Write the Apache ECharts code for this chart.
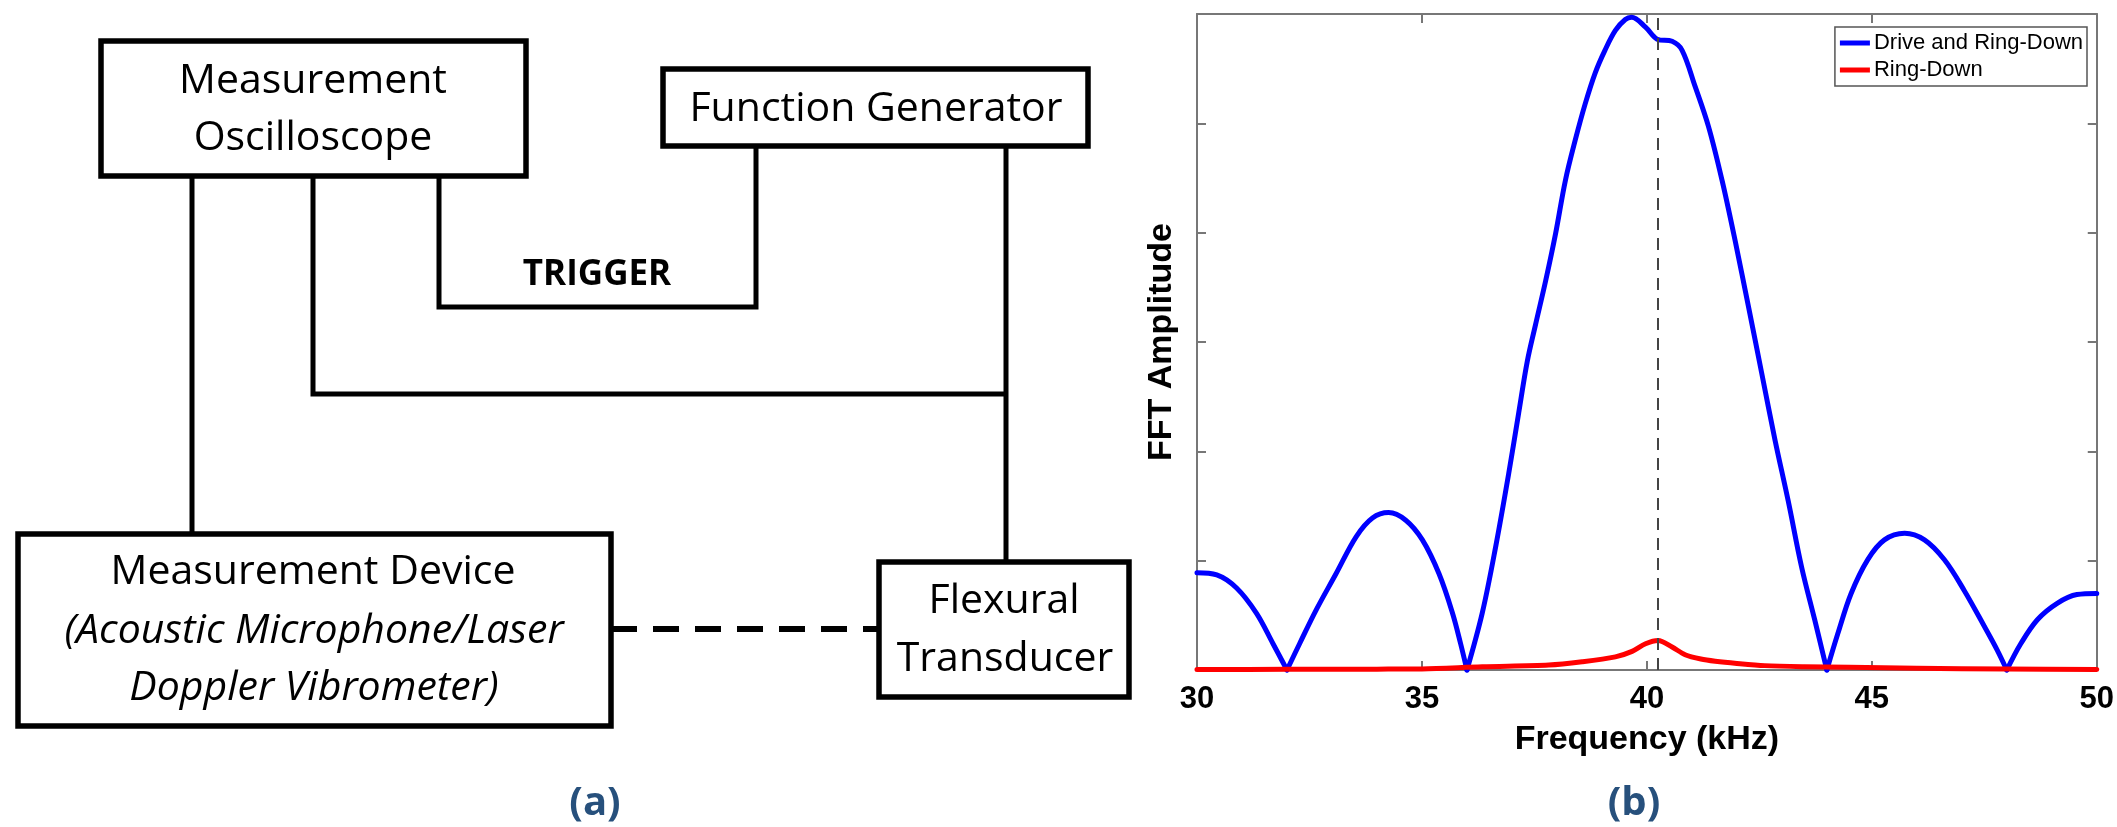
<!DOCTYPE html>
<html>
<head>
<meta charset="utf-8">
<script src="https://cdn.jsdelivr.net/npm/echarts@6/dist/echarts.min.js"></script>
<style>
  html, body { margin: 0; padding: 0; background: #fff; }
  #main { width: 2117px; height: 827px; }
</style>
</head>
<body>
<div id="main"></div>
<script>
// ---- Spectrum data (frequency in kHz, amplitude in arbitrary FFT units) ----
const freqDrive = [30.00, 30.44, 30.88, 31.32, 31.69, 32.00, 32.28, 32.65, 33.09, 33.54,
  33.90, 34.26, 34.64, 35.01, 35.38, 35.68, 35.86, 36.00, 36.34, 36.64, 36.93, 37.15,
  37.34, 37.52, 37.75, 37.97, 38.19, 38.41, 38.63, 38.85, 39.07, 39.30, 39.52, 39.66,
  39.97, 40.23, 40.56, 40.78, 41.07, 41.37, 41.67, 41.96, 42.26, 42.55, 42.85, 43.14,
  43.44, 43.73, 44.00, 44.25, 44.54, 44.91, 45.28, 45.73, 46.17, 46.61, 47.05, 47.50,
  47.79, 48.00, 48.31, 48.68, 49.12, 49.56, 50.00];
const ampDrive = [0.89, 0.87, 0.75, 0.52, 0.24, 0.00, 0.24, 0.55, 0.88, 1.22,
  1.39, 1.44, 1.37, 1.19, 0.88, 0.52, 0.24, 0.00, 0.52, 1.13, 1.80, 2.35,
  2.82, 3.15, 3.56, 3.99, 4.48, 4.85, 5.18, 5.46, 5.67, 5.85, 5.95, 5.97,
  5.88, 5.77, 5.75, 5.67, 5.34, 4.97, 4.48, 3.93, 3.32, 2.72, 2.10, 1.55,
  0.94, 0.46, 0.00, 0.34, 0.70, 1.01, 1.19, 1.25, 1.19, 1.01, 0.73, 0.40,
  0.18, 0.00, 0.24, 0.46, 0.61, 0.69, 0.70];

const freqRing = [30.0, 32.0, 34.0, 35.0, 36.34, 37.82, 38.56, 39.30, 39.67, 39.97,
  40.25, 40.56, 40.85, 41.2, 41.52, 42.0, 42.62, 43.5, 44.5, 46.0, 48.0, 50.0];
const ampRing = [0.005, 0.006, 0.008, 0.01, 0.03, 0.045, 0.075, 0.12, 0.17, 0.24,
  0.27, 0.21, 0.14, 0.10, 0.08, 0.06, 0.04, 0.03, 0.025, 0.015, 0.01, 0.005];

const resonanceKHz = 40.25;
const seriesNames = ['Drive and Ring-Down', 'Ring-Down'];
const xTicks = { min: 30, max: 50, step: 5 };
const yTicks = { min: 0, max: 6, step: 1 };
const axisTitles = { x: 'Frequency (kHz)', y: 'FFT Amplitude' };

// ---- Block diagram text ----
const oscLines = ['Measurement', 'Oscilloscope'];
const genLines = ['Function Generator'];
const deviceLines = ['Measurement Device', '(Acoustic Microphone/Laser', 'Doppler Vibrometer)'];
const transducerLines = ['Flexural', 'Transducer'];
const triggerText = 'TRIGGER';
const panelTags = ['(a)', '(b)'];

const pair = (xs, ys) => xs.map((x, i) => [x, ys[i]]);

// Split the drive spectrum into its lobes at the zero crossings so each lobe
// can be smoothed while the nulls keep their sharp V shape.
function lobes(xs, ys) {
  const out = [];
  let start = 0;
  ys.forEach((v, i) => {
    if (v === 0 && i > start) {
      out.push(pair(xs.slice(start, i + 1), ys.slice(start, i + 1)));
      start = i;
    }
  });
  if (start < ys.length - 1) out.push(pair(xs.slice(start), ys.slice(start)));
  return out;
}

const BOX = '#000';
const WIRE = 5.5;
const boxFont = '41px "Open Sans"';
const boxFontItalic = 'italic 41px "Open Sans"';
const tagColor = '#27507c';

function rect(x, y, w, h) {
  return { type: 'rect', z: 10, shape: { x: x, y: y, width: w, height: h },
    style: { fill: '#fff', stroke: BOX, lineWidth: WIRE } };
}
function wire(points, dash) {
  return { type: 'polyline', z: 5, shape: { points: points },
    style: { fill: null, stroke: BOX, lineWidth: dash ? 6 : 5, lineDash: dash || null,
      lineJoin: 'miter', lineCap: 'butt' } };
}
function label(text, x, y, font, color) {
  return { type: 'text', z: 20, x: x, y: y,
    style: { text: text, font: font, fill: color || '#000',
      align: 'center', verticalAlign: 'middle',
      textAlign: 'center', textVerticalAlign: 'middle' } };
}

const diagram = [
  // connections
  wire([[192, 176], [192, 534]]),
  wire([[313, 176], [313, 394], [1006, 394]]),
  wire([[439, 176], [439, 307], [756, 307], [756, 146]]),
  wire([[1006, 146], [1006, 562]]),
  wire([[611, 629], [879, 629]], [26, 16]),
  // blocks
  rect(101, 41, 425, 135),
  rect(663, 69, 425, 77),
  rect(18, 534, 593, 192),
  rect(879, 562, 250, 135),
  // block text
  label(oscLines[0], 313, 81, boxFont),
  label(oscLines[1], 313, 138, boxFont),
  label(genLines[0], 876, 109, boxFont),
  label(deviceLines[0], 313, 572, boxFont),
  label(deviceLines[1], 314, 631, boxFontItalic),
  label(deviceLines[2], 314, 688, boxFontItalic),
  label(transducerLines[0], 1004, 601, boxFont),
  label(transducerLines[1], 1005, 659, boxFont),
  label(triggerText, 597, 275, 'bold 35px "Open Sans"'),
  // panel tags
  label(panelTags[0], 595, 804, 'bold 40px "Open Sans"', tagColor),
  label(panelTags[1], 1634, 804, 'bold 40px "Open Sans"', tagColor)
];

const chart = echarts.init(document.getElementById('main'), null, { renderer: 'canvas' });

const axisGray = '#777';
const baseAxis = {
  type: 'value',
  axisLine: { show: true, onZero: false, lineStyle: { color: axisGray, width: 2 } },
  axisTick: { show: true, inside: true, length: 9, lineStyle: { color: axisGray, width: 2 } },
  splitLine: { show: false }
};

const driveSeries = lobes(freqDrive, ampDrive).map((seg, k) => {
  const s = {
    name: seriesNames[0], type: 'line', xAxisIndex: 0, yAxisIndex: 0,
    data: seg, showSymbol: false, symbol: 'none',
    smooth: 0.35, clip: false,
    lineStyle: { color: '#0000ff', width: 5, cap: 'round', join: 'round' },
    itemStyle: { color: '#0000ff' },
    z: 2
  };
  if (k === 0) {
    s.markLine = {
      silent: true, symbol: ['none', 'none'], label: { show: false },
      lineStyle: { color: '#444', width: 2, type: [12, 8] },
      data: [{ xAxis: resonanceKHz }]
    };
  }
  return s;
});

chart.setOption({
  backgroundColor: '#fff',
  animation: false,
  textStyle: { fontFamily: '"Liberation Sans", Arial, sans-serif' },
  grid: { left: 1197, right: 17, top: 14, bottom: 157, containLabel: false },
  legend: {
    data: seriesNames,
    orient: 'vertical',
    right: 30,
    top: 27,
    icon: 'rect',
    itemWidth: 30,
    itemHeight: 5,
    itemGap: 3,
    itemStyle: { borderWidth: 0 },
    padding: [4, 4, 4, 5],
    borderColor: '#555',
    borderWidth: 1.5,
    backgroundColor: '#fff',
    selectedMode: false,
    textStyle: { fontSize: 22, color: '#000', padding: [0, 0, 0, -1], lineHeight: 24,
      fontFamily: '"Liberation Sans", Arial, sans-serif' }
  },
  xAxis: [
    Object.assign({}, baseAxis, {
      position: 'bottom', min: xTicks.min, max: xTicks.max, interval: xTicks.step,
      axisLabel: { show: true, margin: 14, fontSize: 31, fontWeight: 'bold', color: '#000' },
      name: axisTitles.x, nameLocation: 'middle', nameGap: 53,
      nameTextStyle: { fontSize: 34, fontWeight: 'bold', color: '#000' }
    }),
    Object.assign({}, baseAxis, {
      position: 'top', min: xTicks.min, max: xTicks.max, interval: xTicks.step,
      axisLabel: { show: false }
    })
  ],
  yAxis: [
    Object.assign({}, baseAxis, {
      position: 'left', min: yTicks.min, max: yTicks.max, interval: yTicks.step,
      axisLabel: { show: false },
      name: axisTitles.y, nameLocation: 'middle', nameGap: 18, nameRotate: 90,
      nameTextStyle: { fontSize: 34, fontWeight: 'bold', color: '#000' }
    }),
    Object.assign({}, baseAxis, {
      position: 'right', min: yTicks.min, max: yTicks.max, interval: yTicks.step,
      axisLabel: { show: false }
    })
  ],
  series: driveSeries.concat([
    {
      name: seriesNames[1], type: 'line', xAxisIndex: 0, yAxisIndex: 0,
      data: pair(freqRing, ampRing), showSymbol: false, symbol: 'none',
      smooth: 0.3, clip: false,
      lineStyle: { color: '#ff0000', width: 5, cap: 'round', join: 'round' },
      itemStyle: { color: '#ff0000' },
      z: 3
    }
  ]),
  graphic: { elements: diagram }
});
</script>
</body>
</html>
